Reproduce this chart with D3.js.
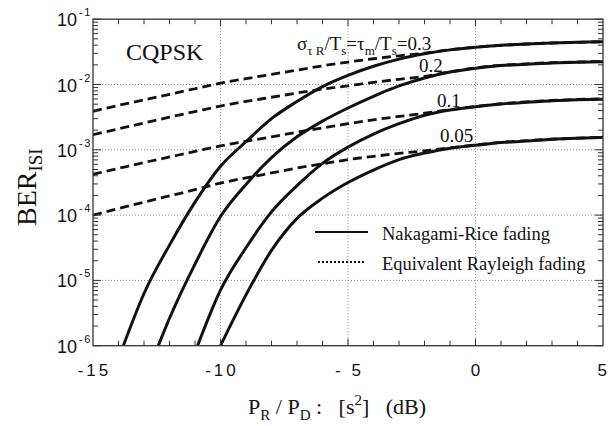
<!DOCTYPE html>
<html><head><meta charset="utf-8">
<script src="https://cdn.jsdelivr.net/npm/d3@7"></script>
<style>body{margin:0;background:#fff}svg{display:block}</style>
</head><body><svg id="c" width="608" height="426"></svg>
<script>
// ---- data ----
const xDashed = [-15,-14,-13,-12,-11,-10,-9,-8,-7,-6,-5,-4,-3,-2,-1,0,1,2,3,4,5];
const rayleigh03  = [3.89e-3,4.79e-3,5.82e-3,7.08e-3,8.61e-3,1.047e-2,1.23e-2,1.43e-2,1.66e-2,1.93e-2,2.21e-2,2.48e-2,2.75e-2,3.02e-2,3.40e-2,3.73e-2,3.98e-2,4.17e-2,4.32e-2,4.42e-2,4.52e-2];
const rayleigh02  = [1.70e-3,2.09e-3,2.57e-3,3.16e-3,3.85e-3,4.68e-3,5.50e-3,6.38e-3,7.41e-3,8.51e-3,9.55e-3,1.08e-2,1.20e-2,1.33e-2,1.57e-2,1.80e-2,1.97e-2,2.07e-2,2.16e-2,2.21e-2,2.26e-2];
const rayleigh01  = [4.22e-4,5.19e-4,6.38e-4,7.76e-4,9.44e-4,1.15e-3,1.35e-3,1.58e-3,1.86e-3,2.16e-3,2.51e-3,2.88e-3,3.24e-3,3.63e-3,4.12e-3,4.62e-3,5.07e-3,5.43e-3,5.69e-3,5.89e-3,6.03e-3];
const rayleigh005 = [1.0e-4,1.26e-4,1.58e-4,1.97e-4,2.45e-4,3.09e-4,3.72e-4,4.42e-4,5.25e-4,6.10e-4,7.08e-4,7.94e-4,8.81e-4,9.66e-4,1.07e-3,1.19e-3,1.30e-3,1.38e-3,1.45e-3,1.51e-3,1.56e-3];

const xRice03  = [-13.81,-13,-12,-11,-10,-9,-8,-7,-6,-5,-4,-3,-2,-1,0,1,2,3,4,5];
const rice03   = [1e-6,6.3e-6,3.47e-5,1.58e-4,5.6e-4,1.33e-3,3.0e-3,5.5e-3,9.3e-3,1.38e-2,1.9e-2,2.45e-2,2.95e-2,3.39e-2,3.72e-2,3.98e-2,4.17e-2,4.32e-2,4.42e-2,4.52e-2];
const xRice02  = [-12.44,-12,-11,-10,-9,-8,-7,-6,-5,-4,-3,-2,-1,0,1,2,3,4,5];
const rice02   = [1e-6,2.63e-6,1.78e-5,9.5e-5,2.95e-4,7.6e-4,1.58e-3,2.75e-3,4.37e-3,6.6e-3,9.5e-3,1.26e-2,1.55e-2,1.78e-2,1.95e-2,2.04e-2,2.14e-2,2.19e-2,2.24e-2];
const xRice01  = [-10.9,-10,-9,-8,-7,-6,-5,-4,-3,-2,-1,0,1,2,3,4,5];
const rice01   = [1e-6,7.1e-6,3.16e-5,1.12e-4,2.82e-4,6.2e-4,1.10e-3,1.74e-3,2.51e-3,3.39e-3,4.07e-3,4.57e-3,5.01e-3,5.37e-3,5.62e-3,5.82e-3,5.96e-3];
const xRice005 = [-10,-9,-8,-7,-6,-5,-4,-3,-2,-1,0,1,2,3,4,5];
const rice005  = [1e-6,6.0e-6,2.88e-5,8.9e-5,1.82e-4,3.16e-4,4.9e-4,7.08e-4,8.9e-4,1.06e-3,1.17e-3,1.29e-3,1.36e-3,1.45e-3,1.50e-3,1.55e-3];

const xTickVals = [-15,-10,-5,0,5];
const xTickLabels = ["-15","-10","- 5","0","5"];
const yTickVals = [1e-1,1e-2,1e-3,1e-4,1e-5,1e-6];
const yTickExps = ["-1","-2","-3","-4","-5","-6"];
const curveLabels = ["0.2","0.1","0.05"];
const legendLabels = ["Nakagami-Rice fading","Equivalent Rayleigh fading"];

// ---- layout ----
const L = 93, R = 603, T = 19.2, B = 345.7;
const svg = d3.select("#c");
const x = d3.scaleLinear().domain([-15,5]).range([L,R]);
const y = d3.scaleLog().domain([1e-6,1e-1]).range([B,T]);

svg.append("defs").append("clipPath").attr("id","clip")
  .append("rect").attr("x",L).attr("y",T).attr("width",R-L).attr("height",B-T);

// grid
const grid = svg.append("g").attr("stroke","#888").attr("stroke-width",1).attr("stroke-dasharray","1,2");
xTickVals.slice(1,-1).forEach(v=>grid.append("line").attr("x1",x(v)).attr("x2",x(v)).attr("y1",T).attr("y2",B));
yTickVals.slice(1,-1).forEach(v=>grid.append("line").attr("x1",L).attr("x2",R).attr("y1",y(v)).attr("y2",y(v)));

// curves
const line = d3.line().x(d=>x(d[0])).y(d=>y(d[1])).curve(d3.curveMonotoneX);
const plot = svg.append("g").attr("clip-path","url(#clip)");
[rayleigh03,rayleigh02,rayleigh01,rayleigh005].forEach(s=>{
  plot.append("path").attr("d",line(xDashed.map((v,i)=>[v,s[i]])))
    .attr("fill","none").attr("stroke","#111").attr("stroke-width",2.8).attr("stroke-dasharray","9,5");
});
[[xRice03,rice03],[xRice02,rice02],[xRice01,rice01],[xRice005,rice005]].forEach(([xs,s])=>{
  plot.append("path").attr("d",line(xs.map((v,i)=>[v,s[i]])))
    .attr("fill","none").attr("stroke","#111").attr("stroke-width",3);
});

// frame
svg.append("rect").attr("x",L).attr("y",T).attr("width",R-L).attr("height",B-T)
  .attr("fill","none").attr("stroke","#333").attr("stroke-width",1.3);

// ticks
const tk = svg.append("g").attr("stroke","#333").attr("stroke-width",1);
d3.range(-14,5).forEach(v=>{
  const len = (v%5===0)?7:5;
  tk.append("line").attr("x1",x(v)).attr("x2",x(v)).attr("y1",B).attr("y2",B-len);
  tk.append("line").attr("x1",x(v)).attr("x2",x(v)).attr("y1",T).attr("y2",T+len);
});
yTickVals.forEach((d,i)=>{
  if(i>0){ [2,3,4,5,6,7,8,9].forEach(m=>{
    const yy = y(d*m);
    tk.append("line").attr("x1",L).attr("x2",L+5).attr("y1",yy).attr("y2",yy);
    tk.append("line").attr("x1",R).attr("x2",R-5).attr("y1",yy).attr("y2",yy);
  });}
  tk.append("line").attr("x1",L).attr("x2",L+8).attr("y1",y(d)).attr("y2",y(d));
  tk.append("line").attr("x1",R).attr("x2",R-8).attr("y1",y(d)).attr("y2",y(d));
});

// tick labels
const sans = "'Liberation Sans', Arial, Helvetica, sans-serif";
const serif = "'Liberation Serif', 'Times New Roman', serif";
xTickVals.forEach((v,i)=>{
  const last = i===xTickVals.length-1;
  svg.append("text").attr("x",last ? 607 : x(v)+1.5).attr("y",376)
    .attr("text-anchor",last ? "end" : "middle")
    .attr("font-family",sans).attr("font-size",17).attr("letter-spacing",last?"0px":"3px")
    .attr("fill","#111").text(xTickLabels[i]);
});
yTickVals.forEach((v,i)=>{
  svg.append("text").attr("x",77).attr("y",y(v)+7).attr("text-anchor","end")
    .attr("font-family",sans).attr("font-size",18).attr("fill","#111").text("10");
  svg.append("text").attr("x",79).attr("y",y(v)-3).attr("font-family",sans)
    .attr("font-size",11).attr("letter-spacing","1.5px").attr("fill","#111").text(yTickExps[i]);
});

// axis titles
const xt = svg.append("text").attr("x",248).attr("y",414).attr("font-family",serif)
  .attr("font-size",22).attr("fill","#111").style("white-space","pre");
xt.append("tspan").text("P");
xt.append("tspan").attr("font-size",15).attr("dy",6).text("R");
xt.append("tspan").attr("dy",-6).text(" / P");
xt.append("tspan").attr("font-size",15).attr("dy",6).text("D");
xt.append("tspan").attr("dy",-6).text(" :   [s");
xt.append("tspan").attr("font-size",15).attr("dy",-9).text("2");
xt.append("tspan").attr("dy",9).text("]   (dB)");

const yt = svg.append("text").attr("transform","translate(36,226) rotate(-90)")
  .attr("font-family",serif).attr("font-size",28).attr("fill","#111");
yt.append("tspan").text("BER");
yt.append("tspan").attr("font-size",19).attr("dy",6).text("ISI");

// annotations
svg.append("text").attr("x",126).attr("y",60).attr("font-family",serif)
  .attr("font-size",24).attr("fill","#111").text("CQPSK");
const an = svg.append("text").attr("x",297).attr("y",50).attr("font-family",serif)
  .attr("font-size",19).attr("fill","#111").style("white-space","pre");
an.append("tspan").text("σ");
an.append("tspan").attr("font-size",13).attr("dy",5).text("τ R");
an.append("tspan").attr("dy",-5).text("/T");
an.append("tspan").attr("font-size",13).attr("dy",5).text("s");
an.append("tspan").attr("dy",-5).text("=τ");
an.append("tspan").attr("font-size",13).attr("dy",5).text("m");
an.append("tspan").attr("dy",-5).text("/T");
an.append("tspan").attr("font-size",13).attr("dy",5).text("s");
an.append("tspan").attr("dy",-5).text("=0.3");
[[419,72],[437,107],[440,142]].forEach((p,i)=>{
  svg.append("text").attr("x",p[0]).attr("y",p[1]).attr("font-family",serif)
    .attr("font-size",19).attr("fill","#111").text(curveLabels[i]);
});

// legend
svg.append("line").attr("x1",315).attr("x2",368).attr("y1",232).attr("y2",232)
  .attr("stroke","#111").attr("stroke-width",2);
svg.append("line").attr("x1",318).attr("x2",364).attr("y1",262).attr("y2",262)
  .attr("stroke","#111").attr("stroke-width",2).attr("stroke-dasharray","2,2");
svg.append("text").attr("x",382).attr("y",240).attr("font-family",serif)
  .attr("font-size",18.5).attr("fill","#111").text(legendLabels[0]);
svg.append("text").attr("x",382).attr("y",270).attr("font-family",serif)
  .attr("font-size",18.5).attr("fill","#111").text(legendLabels[1]);
</script></body></html>
